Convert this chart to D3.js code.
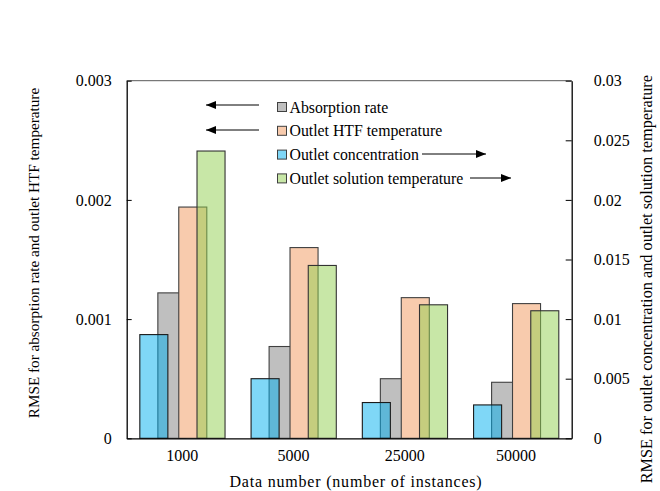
<!DOCTYPE html>
<html>
<head>
<meta charset="utf-8">
<script src="https://cdn.jsdelivr.net/npm/d3@7"></script>
<style>
  body { margin: 0; background: #fff; }
  svg text { font-family: "Liberation Serif", "Times New Roman", serif; fill: #000; }
</style>
</head>
<body>
<script>
// data
var categories = ["1000", "5000", "25000", "50000"];
var absorptionRate = [0.00122, 0.00077, 0.00050, 0.00047];      // left axis
var outletHTF = [0.00194, 0.00160, 0.00118, 0.00113];           // left axis
var outletConc = [0.0087, 0.0050, 0.0030, 0.0028];              // right axis
var outletSolution = [0.0241, 0.0145, 0.0112, 0.0107];          // right axis
var leftTicks = [0, 0.001, 0.002, 0.003];
var rightTicks = [0, 0.005, 0.01, 0.015, 0.02, 0.025, 0.03];

var width = 660, height = 491;
var margin = {left: 126.7, right: 88.3, top: 80.7, bottom: 52.7};
var serif = "Liberation Serif";

var svg = d3.select("body").append("svg").attr("width", width).attr("height", height);
var chartGroup = svg.append("g").attr("font-family", serif);

var x = d3.scaleBand().domain(categories).range([margin.left, width - margin.right]).padding(0);
var yL = d3.scaleLinear().domain([0, 0.003]).range([height - margin.bottom, margin.top]);
var yR = d3.scaleLinear().domain([0, 0.03]).range([height - margin.bottom, margin.top]);

var bw = x.bandwidth();
var barW = bw * 0.252;

// series: draw order matters (gray, orange opaque; blue, green 50% on top)
var series = [
  {name: "Absorption rate", values: absorptionRate, y: yL, fill: "#bfbfbf", opacity: 1, off: -0.094, stroke: "#404040"},
  {name: "Outlet HTF temperature", values: outletHTF, y: yL, fill: "#f8cbad", opacity: 1, off: 0.094, stroke: "#404040"},
  {name: "Outlet concentration", values: outletConc, y: yR, fill: "#00b0f0", opacity: 0.5, off: -0.256, stroke: "#1a1a1a"},
  {name: "Outlet solution temperature", values: outletSolution, y: yR, fill: "#92d050", opacity: 0.5, off: 0.258, stroke: "#333"}
];

series.forEach(function(s){
  chartGroup.append("g")
    .selectAll("rect")
    .data(s.values)
    .enter().append("rect")
      .attr("x", function(d,i){ return x(categories[i]) + bw/2 + s.off*bw - barW/2; })
      .attr("y", function(d){ return s.y(d); })
      .attr("width", barW)
      .attr("height", function(d){ return s.y(0) - s.y(d); })
      .attr("fill", s.fill)
      .attr("fill-opacity", s.opacity)
      .attr("stroke", s.stroke)
      .attr("stroke-width", 1.1);
});

// top border of plot area
chartGroup.append("line")
  .attr("x1", margin.left).attr("x2", width - margin.right)
  .attr("y1", margin.top).attr("y2", margin.top)
  .attr("stroke", "#595959").attr("stroke-width", 1);

// axes
var axL = chartGroup.append("g")
  .attr("transform", "translate(" + margin.left + ",0)")
  .call(d3.axisLeft(yL).tickValues(leftTicks).tickSizeInner(-5).tickSizeOuter(0)
    .tickPadding(15).tickFormat(function(d){ return d === 0 ? "0" : d3.format(".3f")(d); }));
var axR = chartGroup.append("g")
  .attr("transform", "translate(" + (width - margin.right) + ",0)")
  .call(d3.axisRight(yR).tickValues(rightTicks).tickSizeInner(-6).tickSizeOuter(0)
    .tickPadding(22).tickFormat(function(d){ return d === 0 ? "0" : String(+d.toFixed(3)); }));
var axB = chartGroup.append("g")
  .attr("transform", "translate(0," + (height - margin.bottom) + ")")
  .call(d3.axisBottom(x).tickSize(0).tickPadding(11));

[axL, axR, axB].forEach(function(a){
  a.attr("font-family", serif);
  a.select(".domain").attr("stroke", "#000").attr("stroke-width", 1.3);
  a.selectAll(".tick line").attr("stroke", "#000");
  a.selectAll("text").attr("font-family", serif).attr("font-size", "16px").attr("fill", "#000");
});

// axis titles
chartGroup.append("text")
  .attr("transform", "rotate(-90)")
  .attr("x", -253).attr("y", 34)
  .attr("dy", "0.35em")
  .attr("font-family", serif)
  .style("text-anchor", "middle")
  .style("font-size", "15.2px")
  .text("RMSE for absorption rate and outlet HTF temperature");

chartGroup.append("text")
  .attr("transform", "rotate(-90)")
  .attr("x", -75).attr("y", 646)
  .attr("dy", "0.35em")
  .attr("font-family", serif)
  .style("text-anchor", "end")
  .style("font-size", "16.3px")
  .text("RMSE for outlet concentration and outlet solution temperature");

chartGroup.append("text")
  .attr("x", 356).attr("y", 481)
  .attr("dy", "0.35em")
  .attr("font-family", serif)
  .style("text-anchor", "middle")
  .style("font-size", "16px")
  .style("letter-spacing", "0.8px")
  .text("Data number (number of instances)");

// legend
var legend = chartGroup.append("g").attr("transform", "translate(277.5,107)");
series.forEach(function(s, i){
  var g = legend.append("g").attr("transform", "translate(0," + (i * 23.8) + ")");
  g.append("rect").attr("x", 0).attr("y", -4.5).attr("width", 9).attr("height", 9)
    .attr("fill", s.fill).attr("fill-opacity", s.opacity)
    .attr("stroke", "#404040").attr("stroke-width", 1);
  g.append("text").attr("x", 12).attr("y", 0).attr("dy", "0.35em")
    .attr("font-family", serif)
    .style("font-size", "15.8px").text(s.name);
});

// arrows showing which axis each series uses
svg.append("defs").append("marker")
  .attr("id", "arrowhead")
  .attr("viewBox", "0 0 10 8")
  .attr("refX", 10).attr("refY", 4)
  .attr("markerWidth", 10).attr("markerHeight", 8)
  .attr("markerUnits", "userSpaceOnUse")
  .attr("orient", "auto")
  .append("path").attr("d", "M0,0 L10,4 L0,8 Z").attr("fill", "#000");

var arrows = [
  {x1: 259, x2: 206, y: 105},
  {x1: 259, x2: 206, y: 130},
  {x1: 422, x2: 486, y: 154},
  {x1: 470, x2: 511, y: 178}
];
chartGroup.append("g").selectAll("line").data(arrows).enter().append("line")
  .attr("x1", function(d){ return d.x1; }).attr("x2", function(d){ return d.x2; })
  .attr("y1", function(d){ return d.y; }).attr("y2", function(d){ return d.y; })
  .attr("stroke", "#000").attr("stroke-width", 1)
  .attr("marker-end", "url(#arrowhead)");
</script>
</body>
</html>
